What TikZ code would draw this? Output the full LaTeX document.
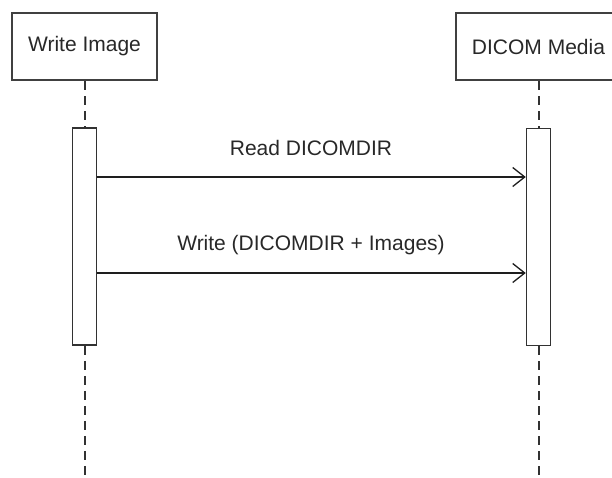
\documentclass[tikz,border=0pt]{standalone}
\usepackage{fontspec}
\setmainfont{Liberation Sans}
\usetikzlibrary{arrows.meta}

\tikzset{every picture/.style={line width=0.75pt}}
\tikzset{
  objbox/.style={draw={rgb, 255:red, 64; green, 64; blue, 64 }, line width=2pt, minimum height=67pt, inner xsep=16pt, inner ysep=0pt, font=\fontsize{21}{25}\selectfont, text={rgb, 255:red, 40; green, 40; blue, 40 }},
  actbox/.style={draw={rgb, 255:red, 50; green, 50; blue, 50 }, line width=1.5pt, minimum width=24pt, minimum height=217pt, inner sep=0pt, fill=white},
  lifeline/.style={draw={rgb, 255:red, 50; green, 50; blue, 50 }, line width=2pt, dash pattern={on 9pt off 6pt}},
  msg/.style={draw={rgb, 255:red, 30; green, 30; blue, 30 }, line width=1.5pt, -{Straight Barb[length=12pt,width=19pt,line width=1.3pt]}},
  msglabel/.style={anchor=base, inner sep=0.75pt, font=\fontsize{21}{25}\selectfont, text={rgb, 255:red, 40; green, 40; blue, 40 }}
}

\begin{document}
\begin{tikzpicture}[x=1pt,y=1pt,yscale=-1,xscale=1]
    \useasboundingbox (0,0) rectangle (612,477);

    %Object boxes
    \node [objbox] (writer) at (84.5,46.5) {Write Image};
    \node [objbox] (media) at (538.5,46.5) {DICOM Media};

    %Activation boxes
    \node [actbox] (writeract) at (84.5,236.5) {};
    \node [actbox] (mediaact) at (538.5,237) {};

    %Lifeline ends and message rows
    \coordinate (writerend) at (84.5,477);
    \coordinate (mediaend) at (538.5,477);
    \coordinate (readrow) at (0,177);
    \coordinate (writerow) at (0,273);

    %Lifelines
    \draw [lifeline] (writer.south) -- (writeract.north);
    \draw [lifeline] (writeract.south) -- (writerend);
    \draw [lifeline] (media.south) -- (mediaact.north);
    \draw [lifeline] (mediaact.south) -- (mediaend);

    %Messages
    \draw [msg] (writeract.east |- readrow) -- (mediaact.west |- readrow);
    \draw [msg] (writeract.east |- writerow) -- (mediaact.west |- writerow);

    % Text Node
    \node [msglabel] (readlabel) at (311,155) {Read DICOMDIR};
    % Text Node
    \node [msglabel] (writelabel) at (311,250) {Write (DICOMDIR + Images)};

\end{tikzpicture}
\end{document}
